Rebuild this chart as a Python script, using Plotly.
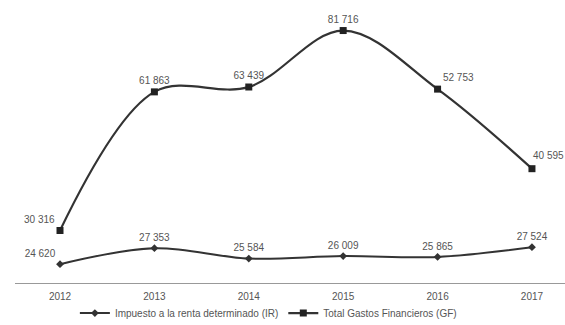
import plotly.graph_objects as go

years = [2012, 2013, 2014, 2015, 2016, 2017]
gf_values = [17000, 61863, 63439, 81716, 62753, 37000]
ir_values = [24620, 27353, 25584, 26009, 25865, 27524]
gf_labels = ["30 316", "61 863", "63 439", "81 716", "52 753", "40 595"]
ir_labels = ["24 620", "27 353", "25 584", "26 009", "25 865", "27 524"]
gf_name = "Total Gastos Financieros (GF)"
ir_name = "Impuesto a la renta determinado (IR)"

gf_pos = ["top left", "top center", "top center", "top center", "top right", "top center"]
ir_pos = ["top left", "top center", "top center", "top center", "top center", "top center"]

FONT = "Liberation Sans, Arial, sans-serif"
LINE = "#333333"
TXT = "#555555"

fig = go.Figure()
fig.add_trace(go.Scatter(
    x=years, y=ir_values, name=ir_name, yaxis="y2",
    mode="lines+markers+text", line=dict(color=LINE, width=2, shape="spline"),
    marker=dict(symbol="diamond", size=6, color=LINE),
    text=ir_labels, textposition=ir_pos,
    textfont=dict(family=FONT, size=10, color=TXT),
))
# last GF label is drawn as an annotation so it can sit right of the descending line
fig.add_trace(go.Scatter(
    x=years, y=gf_values, name=gf_name,
    mode="lines+markers+text", line=dict(color=LINE, width=2.2, shape="spline"),
    marker=dict(symbol="square", size=7, color="#222"),
    text=gf_labels[:-1] + [""], textposition=gf_pos,
    textfont=dict(family=FONT, size=10, color=TXT),
))
fig.add_annotation(x=years[-1], y=gf_values[-1], text=gf_labels[-1], showarrow=False,
                   xanchor="left", yanchor="bottom", xshift=-1, yshift=6,
                   font=dict(family=FONT, size=10, color=TXT))

fig.update_layout(
    width=565, height=325,
    margin=dict(l=0, r=0, t=0, b=42, autoexpand=False),
    paper_bgcolor="white", plot_bgcolor="white",
    font=dict(family=FONT, size=10, color=TXT),
    showlegend=True,
    legend=dict(orientation="h", x=0.475, xanchor="center", y=-0.055, yanchor="top",
                bgcolor="rgba(0,0,0,0)",
                font=dict(family=FONT, size=10, color=TXT), itemwidth=30),
    xaxis=dict(domain=[0.0265, 1], range=[2011.523, 2017.35], tickmode="array", tickvals=years,
               ticktext=[str(y) for y in years], showgrid=False, zeroline=False,
               showline=True, linecolor="#999", linewidth=1, ticks="",
               ticklabelstandoff=4, tickfont=dict(size=10)),
    yaxis=dict(range=[0, 91600], visible=False, showgrid=False),
    yaxis2=dict(range=[21400, 69800], overlaying="y", visible=False, showgrid=False),
)

fig.write_html("out.html")
